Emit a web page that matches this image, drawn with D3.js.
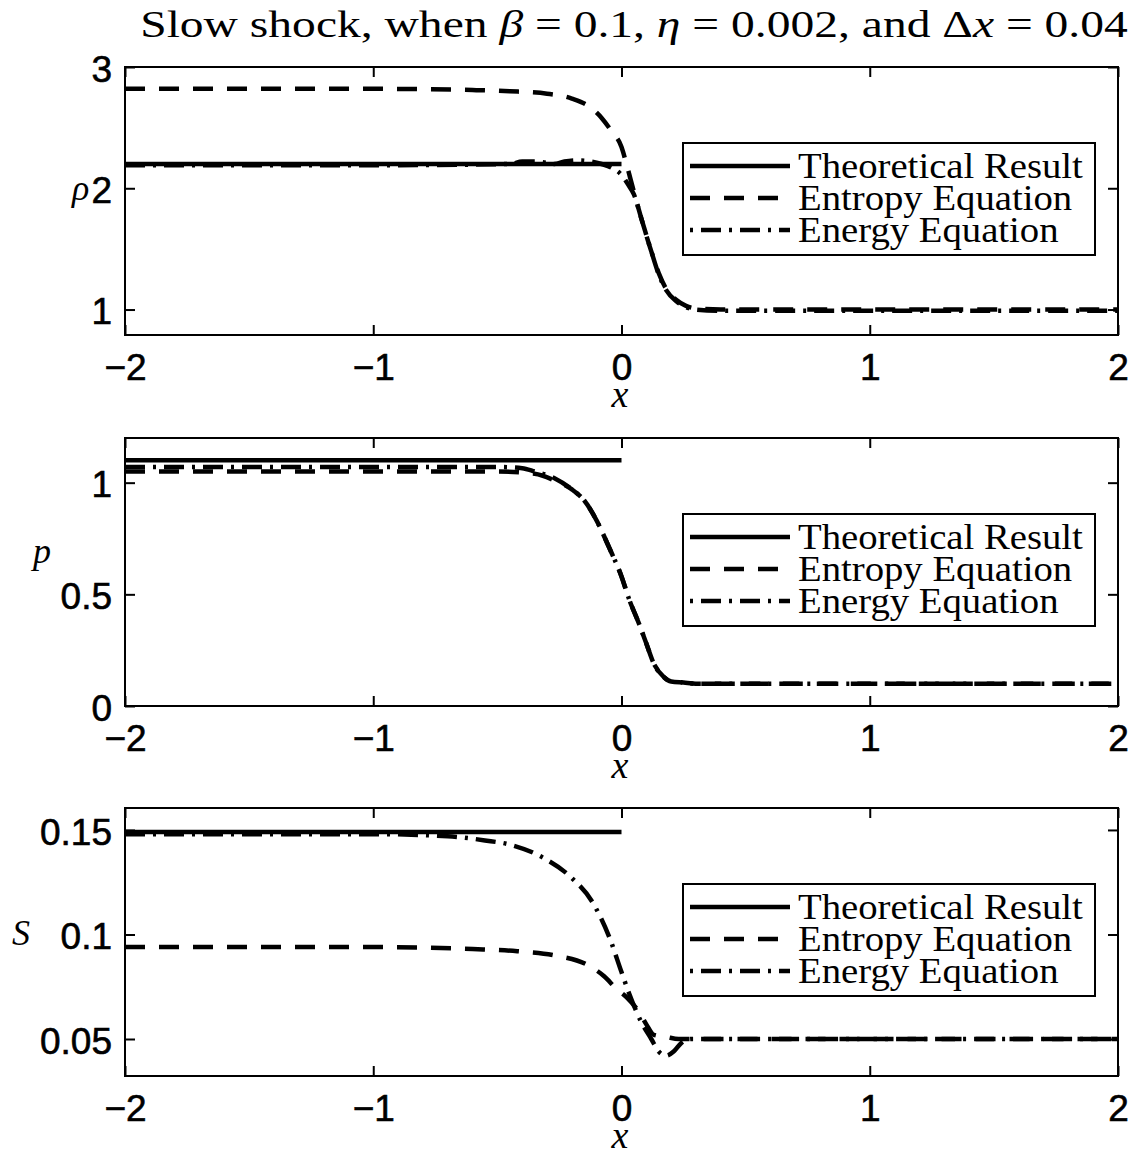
<!DOCTYPE html>
<html>
<head>
<meta charset="utf-8">
<script src="https://cdn.jsdelivr.net/npm/d3@7/dist/d3.min.js"></script>
<style>
  body { margin: 0; background: #fff; }
  svg { display: block; }
</style>
</head>
<body>
<div id="chart"></div>
<script>
// ---- data ----
const xTicks = [-2, -1, 0, 1, 2];
const seriesNames = ['Theoretical Result', 'Entropy Equation', 'Energy Equation'];

// density
const rhoTicks = [1, 2, 3];
const rhoTheoryX = [-2, 0];
const rhoTheory = [2.2, 2.2];
const rhoEntropyX = [-2, -1, -0.6, -0.45, -0.3, -0.2, -0.12, -0.08, -0.04, 0, 0.02, 0.05, 0.08, 0.12, 0.15, 0.18, 0.22, 0.26, 0.3, 0.4, 1, 2];
const rhoEntropy = [2.82, 2.82, 2.81, 2.80, 2.78, 2.74, 2.66, 2.58, 2.47, 2.34, 2.20, 1.97, 1.75, 1.48, 1.30, 1.17, 1.08, 1.03, 1.01, 1.0, 1.0, 1.0];
const rhoEnergyX = [-2, -1, -0.45, -0.4, -0.35, -0.3, -0.27, -0.23, -0.18, -0.12, -0.08, -0.04, 0, 0.03, 0.05, 0.08, 0.12, 0.15, 0.18, 0.22, 0.26, 0.3, 0.4, 1, 2];
const rhoEnergy = [2.19, 2.19, 2.2, 2.22, 2.22, 2.21, 2.2, 2.22, 2.23, 2.22, 2.2, 2.17, 2.11, 2.02, 1.95, 1.75, 1.48, 1.29, 1.16, 1.07, 1.02, 1.0, 0.99, 0.99, 0.99];

// pressure
const pTicks = [0, 0.5, 1];
const pTheoryX = [-2, 0];
const pTheory = [1.1, 1.1];
const pEntropyX = [-2, -1, -0.5, -0.35, -0.27, -0.2, -0.15, -0.1, -0.05, 0, 0.03, 0.07, 0.1, 0.13, 0.17, 0.2, 0.25, 0.3, 1, 2];
const pEntropy = [1.05, 1.05, 1.05, 1.04, 1.01, 0.97, 0.92, 0.83, 0.71, 0.58, 0.48, 0.37, 0.28, 0.19, 0.13, 0.11, 0.105, 0.1, 0.1, 0.1];
const pEnergyX = [-2, -1, -0.5, -0.4, -0.35, -0.27, -0.2, -0.15, -0.1, -0.05, 0, 0.03, 0.07, 0.1, 0.13, 0.17, 0.2, 0.25, 0.3, 1, 2];
const pEnergy = [1.07, 1.07, 1.07, 1.065, 1.05, 1.02, 0.97, 0.92, 0.83, 0.71, 0.58, 0.48, 0.37, 0.28, 0.19, 0.13, 0.11, 0.105, 0.1, 0.1, 0.1];

// entropy S
const sTicks = [0.05, 0.1, 0.15];
const sTheoryX = [-2, 0];
const sTheory = [0.149, 0.149];
const sEntropyX = [-2, -1, -0.6, -0.42, -0.27, -0.13, -0.07, -0.02, 0.02, 0.07, 0.1, 0.13, 0.18, 0.23, 0.3, 1, 2];
const sEntropy = [0.094, 0.094, 0.093, 0.092, 0.090, 0.085, 0.080, 0.074, 0.070, 0.063, 0.057, 0.052, 0.051, 0.050, 0.050, 0.050, 0.050];
const sEnergyX = [-2, -1, -0.7, -0.55, -0.45, -0.32, -0.2, -0.12, -0.05, 0, 0.03, 0.08, 0.12, 0.15, 0.18, 0.21, 0.24, 0.28, 0.35, 1, 2];
const sEnergy = [0.148, 0.148, 0.147, 0.145, 0.143, 0.137, 0.127, 0.116, 0.099, 0.082, 0.072, 0.058, 0.050, 0.044, 0.042, 0.044, 0.048, 0.050, 0.050, 0.050, 0.050];

// ---- layout ----
const width = 1144;
const height = 1156;
const left = 125;
const right = 1118;
const panelH = 268;
const tickFont = '"Liberation Sans", Arial, sans-serif';
const serif = '"Liberation Serif", "Times New Roman", serif';
const dashes = ['none', '20,14', '20,8,3,8'];

const zip = (xs, ys) => xs.map((v, i) => [v, ys[i]]);

const panels = [
  { top: 67, domain: [0.79, 3], ticks: rhoTicks, label: 'ρ', lx: 72, ly: 200,
    series: [zip(rhoTheoryX, rhoTheory), zip(rhoEntropyX, rhoEntropy), zip(rhoEnergyX, rhoEnergy)] },
  { top: 438, domain: [0, 1.2], ticks: pTicks, label: 'p', lx: 33, ly: 563,
    series: [zip(pTheoryX, pTheory), zip(pEntropyX, pEntropy), zip(pEnergyX, pEnergy)] },
  { top: 808, domain: [0.0323, 0.1605], ticks: sTicks, label: 'S', lx: 12, ly: 945,
    series: [zip(sTheoryX, sTheory), zip(sEntropyX, sEntropy), zip(sEnergyX, sEnergy)] }
];

const svg = d3.select('#chart')
  .append('svg')
  .attr('width', width)
  .attr('height', height)
  .style('background', '#fff');

// stretch a text horizontally so it spans `target` pixels
const fitWidth = (sel, x, y, target) => {
  const len = sel.node().getComputedTextLength();
  sel.attr('transform', `translate(${x}, ${y}) scale(${target / len}, 1)`);
};

// title
const title = svg.append('text')
  .attr('text-anchor', 'middle')
  .style('font-family', serif)
  .style('font-size', '38px')
  .style('fill', '#000');
title.append('tspan').text('Slow shock, when ');
title.append('tspan').style('font-style', 'italic').text('β');
title.append('tspan').text(' = 0.1, ');
title.append('tspan').style('font-style', 'italic').text('η');
title.append('tspan').text(' = 0.002, and Δ');
title.append('tspan').style('font-style', 'italic').text('x');
title.append('tspan').text(' = 0.04');
fitWidth(title, 634, 37, 988);

const xScale = d3.scaleLinear()
  .domain([-2, 2])
  .range([left, right]);

const fmt = (d) => d < 0 ? '\u2212' + Math.abs(d) : String(d);

panels.forEach((p, pi) => {
  const bottom = p.top + panelH;
  const yScale = d3.scaleLinear()
    .domain(p.domain)
    .range([bottom, p.top]);

  const g = svg.append('g');

  const clipId = 'clip' + pi;
  svg.append('clipPath')
    .attr('id', clipId)
    .append('rect')
    .attr('x', left)
    .attr('y', p.top)
    .attr('width', right - left)
    .attr('height', panelH);

  // axes, ticks pointing inward on all four sides
  const xBottom = g.append('g')
    .attr('transform', `translate(0, ${bottom})`)
    .call(d3.axisBottom(xScale).tickValues(xTicks).tickSizeInner(-10).tickSizeOuter(0).tickPadding(19).tickFormat(fmt));
  const xTop = g.append('g')
    .attr('transform', `translate(0, ${p.top})`)
    .call(d3.axisTop(xScale).tickValues(xTicks).tickSizeInner(-10).tickSizeOuter(0).tickFormat(''));
  const yLeft = g.append('g')
    .attr('transform', `translate(${left}, 0)`)
    .call(d3.axisLeft(yScale).tickValues(p.ticks).tickSizeInner(-10).tickSizeOuter(0).tickPadding(13).tickFormat(fmt));
  const yRight = g.append('g')
    .attr('transform', `translate(${right}, 0)`)
    .call(d3.axisRight(yScale).tickValues(p.ticks).tickSizeInner(-10).tickSizeOuter(0).tickFormat(''));

  [xBottom, xTop, yLeft, yRight].forEach((a) => {
    a.select('.domain').remove();
    a.selectAll('line').attr('stroke', '#000').attr('stroke-width', 2);
    a.selectAll('text')
      .style('font-family', tickFont)
      .style('font-size', '37px')
      .style('fill', '#000')
      .style('stroke', '#000')
      .style('stroke-width', 0.6);
  });
  yLeft.selectAll('text').attr('dy', '0.38em');

  // series
  const line = d3.line()
    .x((d) => xScale(d[0]))
    .y((d) => yScale(d[1]))
    .curve(d3.curveMonotoneX);

  // entropy, energy, then theory on top
  [1, 2, 0].forEach((si) => {
    g.append('path')
      .datum(p.series[si])
      .attr('clip-path', `url(#${clipId})`)
      .attr('d', line)
      .attr('fill', 'none')
      .attr('stroke', '#000')
      .attr('stroke-width', 4.5)
      .attr('stroke-dasharray', dashes[si]);
  });

  // box
  g.append('rect')
    .attr('x', left)
    .attr('y', p.top)
    .attr('width', right - left)
    .attr('height', panelH)
    .attr('fill', 'none')
    .attr('stroke', '#000')
    .attr('stroke-width', 2);

  // y label
  g.append('text')
    .attr('x', p.lx)
    .attr('y', p.ly)
    .style('font-family', serif)
    .style('font-style', 'italic')
    .style('font-size', '36px')
    .text(p.label);

  // x label
  g.append('text')
    .attr('x', 620)
    .attr('y', bottom + 72)
    .attr('text-anchor', 'middle')
    .style('font-family', serif)
    .style('font-style', 'italic')
    .style('font-size', '38px')
    .text('x');

  // legend
  const legend = g.append('g')
    .attr('transform', `translate(683, ${p.top + 76})`);

  legend.append('rect')
    .attr('width', 412)
    .attr('height', 112)
    .attr('fill', '#fff')
    .attr('stroke', '#000')
    .attr('stroke-width', 2);

  const item = legend.selectAll('.item')
    .data(seriesNames)
    .enter()
    .append('g')
    .attr('class', 'item')
    .attr('transform', (d, i) => `translate(0, ${35 + i * 32})`);

  item.append('line')
    .attr('x1', 7)
    .attr('x2', 107)
    .attr('y1', -12)
    .attr('y2', -12)
    .attr('stroke', '#000')
    .attr('stroke-width', 4.5)
    .attr('stroke-dasharray', (d, i) => i === 2 ? '3,8,20,8' : dashes[i]);

  const labels = item.append('text')
    .style('font-family', serif)
    .style('font-size', '36px')
    .style('fill', '#000')
    .text((d) => d);

  // the source font is wider; stretch all entries by the same factor
  const k = 285 / labels.node().getComputedTextLength();
  labels.attr('transform', `translate(115, 0) scale(${k}, 1)`);
});
</script>
</body>
</html>
